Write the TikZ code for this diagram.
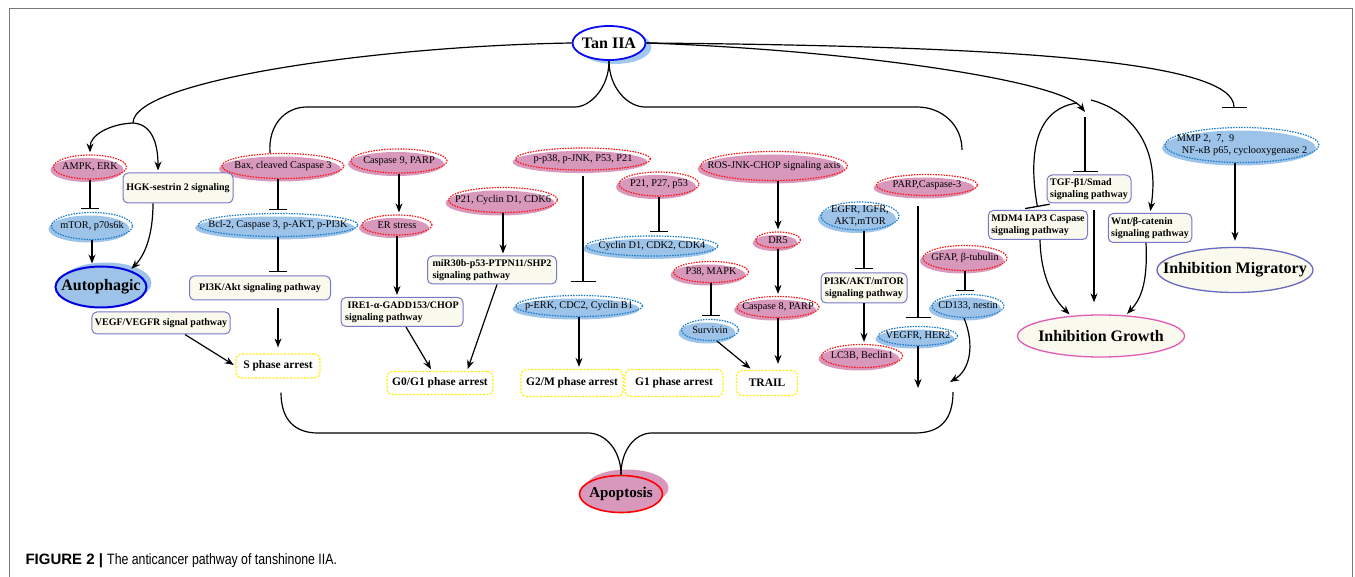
\documentclass[tikz,border=0pt]{standalone}
\usepackage{graphicx}
\usepackage{fontspec}
\setmainfont{Liberation Serif}
\newfontfamily\capfont{Liberation Sans}
\usetikzlibrary{arrows.meta,shapes.geometric,shadows}

\definecolor{pinkfill}{RGB}{216,152,188}
\definecolor{bluefill}{RGB}{157,195,232}
\definecolor{dotred}{RGB}{255,20,20}
\definecolor{dotblue}{RGB}{25,125,205}
\definecolor{boxline}{RGB}{120,120,200}
\definecolor{boxfill}{RGB}{250,249,238}
\definecolor{phaseline}{RGB}{255,238,0}
\definecolor{tanblue}{RGB}{10,10,245}
\definecolor{shadeblue}{RGB}{160,200,240}
\definecolor{autoline}{RGB}{0,0,225}
\definecolor{growthline}{RGB}{225,90,180}
\definecolor{migrline}{RGB}{105,105,195}
\definecolor{framec}{RGB}{120,120,120}

\newcommand\smallrm{\fontsize{10.3}{12}\selectfont}
\newcommand\boxbf{\bfseries\fontsize{10}{12}\selectfont}
\newcommand\phasebf{\bfseries\fontsize{11.5}{13}\selectfont}
\newcommand\bigbf{\bfseries\fontsize{16}{18}\selectfont}

\tikzstyle{pinkmol}=[ellipse, draw=dotred, line width=1.2pt, dash pattern=on 1.5pt off 1.2pt, general shadow={fill=pinkfill, shadow xshift=-3pt, shadow yshift=-3pt}, inner sep=0pt]
\tikzstyle{bluemol}=[ellipse, draw=dotblue, line width=1.2pt, dash pattern=on 1.5pt off 1.2pt, general shadow={fill=bluefill, shadow xshift=-3pt, shadow yshift=-3pt}, inner sep=0pt]
\tikzstyle{pathbox}=[rectangle, rounded corners=5pt, draw=boxline, fill=boxfill, line width=1pt, font=\boxbf, align=left, inner xsep=3pt, inner ysep=1pt]
\tikzstyle{phasebox}=[rectangle, rounded corners=6pt, draw=phaseline, line width=1.2pt, dash pattern=on 2pt off 1.5pt, fill=white, font=\phasebf, inner sep=1pt]
\tikzstyle{link}=[line width=1.2pt]
\tikzstyle{act}=[link, -{Stealth[length=9pt,width=7pt]}, shorten >=2pt]
\tikzstyle{inh}=[link, -{Bar[width=18pt,line width=1.3pt]}, shorten >=3pt]
\tikzstyle{inhw}=[link, -{Bar[width=25pt,line width=1.3pt]}, shorten >=3pt]

\begin{document}
\begin{tikzpicture}[x=1pt, y=-1pt, every label/.style={inner sep=0pt, font=\smallrm, align=center}]
  \useasboundingbox (0,0) rectangle (1355,577);
  \draw[framec, line width=1pt] (9,577) -- (9,9) -- (1352,9) -- (1352,577);

  % main outcomes
  \node[ellipse, draw=tanblue, line width=1.8pt, fill=white, inner sep=0pt, minimum width=73pt, minimum height=34pt,
        general shadow={fill=shadeblue, shadow xshift=6pt, shadow yshift=-4pt},
        label={[font=\bigbf]center:Tan IIA}] (tan) at (609,43) {};
  \node[ellipse, draw=autoline, line width=2pt, fill=bluefill, inner sep=0pt, minimum width=91pt, minimum height=41pt,
        general shadow={fill=bluefill, shadow xshift=5pt, shadow yshift=4pt},
        label={[font=\bigbf]center:Autophagic}] (auto) at (101,287) {};
  \node[ellipse, draw=red, line width=1.6pt, fill=pinkfill, inner sep=0pt, minimum width=83pt, minimum height=37pt,
        general shadow={fill=pinkfill, shadow xshift=6pt, shadow yshift=6pt},
        label={[font=\bfseries\fontsize{15}{17}\selectfont]center:Apoptosis}] (apo) at (621,494) {};
  \node[ellipse, draw=growthline, line width=1.3pt, fill=boxfill, inner sep=0pt, minimum width=167pt, minimum height=42pt,
        label={[font=\bigbf]center:Inhibition Growth}] (growth) at (1101,336) {};
  \node[ellipse, draw=migrline, line width=1.3pt, fill=boxfill, inner sep=0pt, minimum width=156pt, minimum height=45pt,
        label={[font=\bigbf]center:Inhibition Migratory}] (migr) at (1235,270) {};

  % molecules
  \node[pinkmol, minimum width=73pt, minimum height=24pt, label=center:{AMPK, ERK}] (ampk) at (90,167) {};
  \node[bluemol, minimum width=81pt, minimum height=27pt, label=center:{mTOR, p70s6k}] (mtor) at (92,226) {};
  \node[pinkmol, minimum width=122pt, minimum height=25pt, label=center:{Bax, cleaved Caspase 3}] (bax) at (283,166) {};
  \node[bluemol, minimum width=160pt, minimum height=23pt, label=center:{Bcl-2, Caspase 3, p-AKT, p-PI3K}] (bcl) at (278,225) {};
  \node[pinkmol, minimum width=96pt, minimum height=24pt, label=center:{Caspase 9, PARP}] (casp9) at (399,161) {};
  \node[pinkmol, minimum width=70pt, minimum height=20pt, label=center:{ER stress}] (er) at (397,225) {};
  \node[pinkmol, minimum width=109pt, minimum height=25pt, label=center:{P21, Cyclin D1, CDK6}] (p21cd) at (503,200) {};
  \node[pinkmol, minimum width=135pt, minimum height=22pt, label=center:{p-p38, p-JNK, P53, P21}] (pp38) at (583,159) {};
  \node[bluemol, minimum width=127pt, minimum height=21pt, label=center:{p-ERK, CDC2, Cyclin B1}] (perk) at (579,306) {};
  \node[pinkmol, minimum width=80pt, minimum height=24pt, label=center:{P21, P27, p53}] (p21p27) at (659,184) {};
  \node[bluemol, minimum width=132pt, minimum height=20pt, label=center:{Cyclin D1, CDK2, CDK4}] (cyc) at (652,246) {};
  \node[pinkmol, minimum width=75pt, minimum height=21pt, label=center:{P38, MAPK}] (p38) at (711,272) {};
  \node[bluemol, minimum width=57pt, minimum height=21pt, label=center:{Survivin}] (surv) at (710,330) {};
  \node[pinkmol, minimum width=147pt, minimum height=29pt, label=center:{ROS-JNK-CHOP signaling axis}] (ros) at (774,166) {};
  \node[pinkmol, minimum width=45pt, minimum height=16pt, label=center:{DR5}] (dr5) at (778,240) {};
  \node[pinkmol, minimum width=82pt, minimum height=21pt, label=center:{Caspase 8, PARP}] (casp8) at (778,307) {};
  \node[bluemol, minimum width=78pt, minimum height=28pt, label=center:{EGFR, IGFR,\\AKT,mTOR}] (egfr) at (860,216) {};
  \node[pinkmol, minimum width=81pt, minimum height=23pt, label=center:{LC3B, Beclin1}] (lc3b) at (862,356) {};
  \node[pinkmol, minimum width=101pt, minimum height=21pt, label=center:{PARP,Caspase-3}] (parp) at (927,185) {};
  \node[bluemol, minimum width=79pt, minimum height=19pt, label=center:{VEGFR, HER2}] (vegfr) at (918,336) {};
  \node[pinkmol, minimum width=84pt, minimum height=25pt, label=center:{GFAP, β-tubulin}] (gfap) at (965,258) {};
  \node[bluemol, minimum width=72pt, minimum height=23pt, label=center:{CD133, nestin}] (cd133) at (968,306) {};
  \node[bluemol, minimum width=154pt, minimum height=35pt,
        label={[align=left]center:{MMP 2,~~7,~~9\\~~NF-κB p65, cyclooxygenase 2}}] (mmp) at (1242,145) {};

  % pathways
  \node[pathbox, minimum width=110pt, minimum height=30pt] (hgk) at (178,188) {HGK-sestrin 2 signaling};
  \node[pathbox, minimum width=137pt, minimum height=22pt] (vegf) at (161,323) {VEGF/VEGFR signal pathway};
  \node[pathbox, minimum width=141pt, minimum height=24pt] (pi3k) at (260,288) {PI3K/Akt signaling pathway};
  \node[pathbox, minimum width=122pt, minimum height=29pt] (ire) at (402,312) {~IRE1-α-GADD153/CHOP\\signaling pathway};
  \node[pathbox, minimum width=129pt, minimum height=28pt] (mir) at (492,270) {miR30b-p53-PTPN11/SHP2\\signaling pathway};
  \node[pathbox, minimum width=86pt, minimum height=30pt, align=center] (pi3kakt) at (864,288) {PI3K/AKT/mTOR\\signaling pathway};
  \node[pathbox, minimum width=99pt, minimum height=29pt] (mdm4) at (1038,225) {MDM4 IAP3 Caspase\\signaling pathway};
  \node[pathbox, minimum width=84pt, minimum height=28pt] (tgf) at (1089,189) {TGF-β1/Smad\\signaling pathway};
  \node[pathbox, minimum width=83pt, minimum height=29pt] (wnt) at (1150,228) {Wnt/β-catenin\\signaling pathway};

  % cell cycle
  \node[phasebox, minimum width=84pt, minimum height=24pt] (sph) at (278,366) {S phase arrest};
  \node[phasebox, minimum width=106pt, minimum height=23pt] (g0) at (440,383) {G0/G1 phase arrest};
  \node[phasebox, minimum width=102pt, minimum height=27pt] (g2m) at (572,383) {G2/M phase arrest};
  \node[phasebox, minimum width=98pt, minimum height=27pt] (g1) at (674,383) {G1 phase arrest};
  \node[phasebox, minimum width=61pt, minimum height=25pt] (trail) at (767,383) {TRAIL};

  \coordinate (lfork) at (133,123);
  \coordinate (rfork) at (1085,112);
  \coordinate (rtop) at (962,150);
  \coordinate (rbot) at (953,392);
  \coordinate (vdown) at (919,388);
  \coordinate (cdown) at (950,382);

  % left branch
  \draw[link] (tan.west) .. controls (380,46) and (133,80) .. (lfork);
  \draw[act] (lfork) .. controls (110,124) and (90,135) .. (ampk.north);
  \draw[act] (lfork) .. controls (150,124) and (158,140) .. ([xshift=-20pt]hgk.north);
  \draw[inh] (ampk.south) -- (ampk.south |- mtor.north);
  \draw[act] (mtor.south) -- (mtor.south |- auto.north);
  \draw[act] ([xshift=-25pt]hgk.south) .. controls (153,235) and (145,255) .. (auto.30);
  \draw[act] ([xshift=24pt]vegf.south) -- (sph.west);

  % upper bracket
  \draw[link] (tan.south) .. controls (609,88) and (590,107) .. (575,107) -- (307,107)
    .. controls (285,107) and (268,125) .. ([xshift=-13pt]bax.north);
  \draw[link] (tan.south) .. controls (609,88) and (628,107) .. (645,107) -- (917,107)
    .. controls (942,107) and (962,125) .. (rtop);

  \draw[inh] (bcl.north |- bax.south) -- (bcl.north);
  \draw[inh] (bcl.south) -- (bcl.south |- pi3k.north);
  \draw[act, shorten <=8pt, shorten >=6pt] (sph.north |- pi3k.south) -- (sph.north);
  \draw[act] (casp9.south) -- (casp9.south |- er.north);
  \draw[act] (er.south) -- (er.south |- ire.north);
  \draw[act] ([xshift=4pt]ire.south) -- ([xshift=-8pt]g0.north);
  \draw[act] (p21cd.south) -- (p21cd.south |- mir.north);
  \draw[act] ([xshift=5pt]mir.south) -- ([xshift=27pt]g0.north);
  \draw[inhw, shorten <=5pt, shorten >=13pt] (pp38.south) -- (pp38.south |- perk.north);
  \draw[act] (perk.south) -- (perk.south |- g2m.north);
  \draw[inh] (p21p27.south) -- (p21p27.south |- cyc.north);
  \draw[act] (dr5.north |- ros.south) -- (dr5.north);
  \draw[act] (dr5.south) -- (dr5.south |- casp8.north);
  \draw[act, shorten >=6pt] (casp8.south) -- (casp8.south |- trail.north);
  \draw[inh] (p38.south) -- (p38.south |- surv.north);
  \draw[act] ([xshift=7pt]surv.south) -- ([xshift=-15pt]trail.north);
  \draw[inh] (pi3kakt.north |- egfr.south) -- (pi3kakt.north);
  \draw[act] (pi3kakt.south) -- (pi3kakt.south |- lc3b.north);
  \draw[inhw, shorten <=10pt, shorten >=8pt] (vegfr.north |- parp.south) -- (vegfr.north);
  \draw[inh] (gfap.south) -- (gfap.south |- cd133.north);
  \draw[act, shorten >=0pt] (vegfr.south) -- (vegfr.south |- vdown);
  \draw[act, shorten >=0pt] ([xshift=-4pt]cd133.south) .. controls (975,345) and (970,370) .. (cdown);

  % lower bracket
  \draw[link] ([xshift=3pt,yshift=-14pt]sph.south) .. controls (281,420) and (295,433) .. (318,433) -- (588,433)
    .. controls (605,433) and (621,450) .. (apo.north);
  \draw[link] (apo.north) .. controls (621,450) and (635,433) .. (652,433) -- (915,433)
    .. controls (940,433) and (953,420) .. (rbot);

  % right branch
  \draw[act, shorten >=0pt] (tan.east) .. controls (850,50) and (1060,80) .. (rfork);
  \draw[inhw, shorten >=19pt] (tan.east) .. controls (1000,46) and (1234,60) .. ([xshift=-8pt]mmp.north);
  \draw[inhw, shorten <=5pt, shorten >=2pt] (rfork) -- (rfork |- tgf.north);
  \draw[inhw] ([shift={(-8pt,9pt)}]rfork) .. controls (1030,110) and (1030,165) .. (mdm4.north);
  \draw[act] ([shift={(6pt,12pt)}]rfork) .. controls (1135,112) and (1160,150) .. (wnt.north);
  \draw[act] ([xshift=2pt]mdm4.south) .. controls (1041,280) and (1055,300) .. (growth.146);
  \draw[act, shorten <=7pt, shorten >=12pt] ([xshift=5pt]tgf.south) -- ([xshift=-7pt]growth.north);
  \draw[act] ([xshift=-4pt]wnt.south) .. controls (1148,285) and (1140,300) .. (growth.40);
  \draw[act, shorten >=6pt] (migr.north |- mmp.south) -- (migr.north);

  \node[anchor=west, font=\capfont\fontsize{15}{18}\selectfont] (cap) at (22,561)
    {\textbf{FIGURE 2 |} \scalebox{0.82}[1]{The anticancer pathway of tanshinone IIA.}};
\end{tikzpicture}
\end{document}
